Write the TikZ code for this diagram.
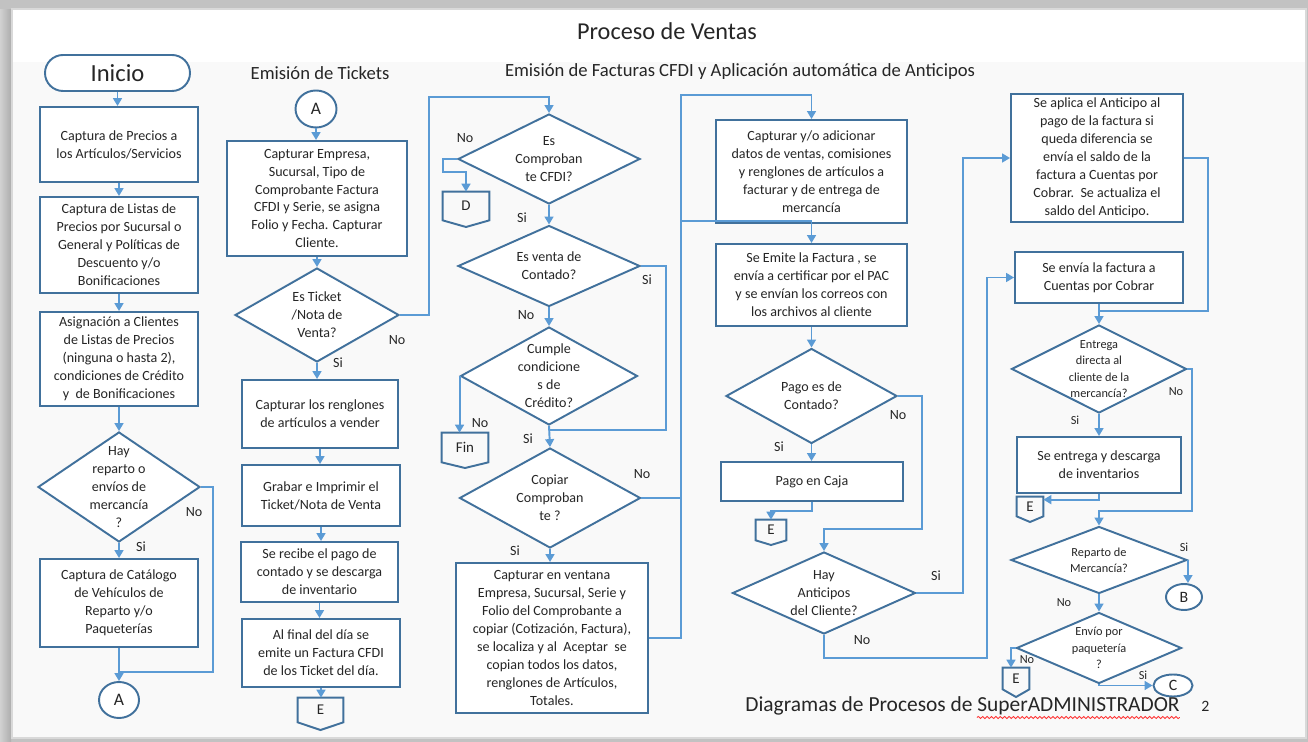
\documentclass[tikz,border=0pt]{standalone}
\usepackage{fontspec}
\setmainfont{Carlito}
\usetikzlibrary{shapes.geometric,arrows.meta,calc,decorations.pathmorphing}
\definecolor{boxc}{HTML}{41719C}
\definecolor{linec}{HTML}{5B9BD5}
\definecolor{txt}{HTML}{262626}
\definecolor{frameg}{HTML}{C2C2C2}
\definecolor{slidebg}{HTML}{F9F9F9}
\newcommand{\szbody}{\fontsize{8}{10.2}\selectfont}
\newcommand{\szsmall}{\fontsize{7}{9.3}\selectfont}
\newcommand{\pbox}[6]{\node[box, minimum width={(#4-#2)*0.02cm}, minimum height={(#5-#3)*0.02cm}] (#1) at ({(#2+#4)/2},{(#3+#5)/2}) {#6};}
\newcommand{\pdia}[7]{\node[dia, minimum width={#4*0.02cm}, minimum height={#5*0.02cm}] (#1) at (#2,#3) {};
  \node[dtext, #6] (#1t) at (#1.center) {#7};}
\newcommand{\poff}[7]{\node[opc, minimum width={(#3-#2)*0.02cm}, minimum height={(#5-#4)*0.02cm}] (#1) at ({(#2+#3)/2},{(#4+#5)/2}) {#7};
  \draw[boxline] (#1.north west) -- (#1.north east) -- (#1.south east) -- ({(#2+#3)/2},#6) -- (#1.south west) -- cycle;}
\begin{document}
\begin{tikzpicture}[x=0.02cm,y=-0.02cm,
  box/.style={draw=boxc, line width=1.1pt, fill=white, align=center, inner sep=1pt, text=txt, font=\szbody},
  boxline/.style={draw=boxc, line width=1.1pt},
  dia/.style={diamond, draw=boxc, line width=1.1pt, fill=white, inner sep=0pt},
  dtext/.style={align=center, inner sep=0pt, text=txt, font=\szbody},
  opc/.style={inner sep=0pt, text=txt, font=\fontsize{8.5}{10}\selectfont},
  ell/.style={ellipse, draw=boxc, line width=1.1pt, fill=white, inner sep=0pt, text=txt},
  lbl/.style={inner sep=0pt, text=txt, font=\szbody},
  lbls/.style={inner sep=0pt, text=txt, font=\szsmall},
  conn/.style={draw=linec, line width=1.1pt, -{Triangle[length=4.5pt,width=5pt]}},
  plain/.style={draw=linec, line width=1.1pt},
  ttl/.style={inner sep=0pt, text=txt}]
\useasboundingbox (0,0) rectangle (1308,742);
% frame
\fill[frameg] (0,0) rectangle (1308,742);
\shade[left color=white!82!black, right color=white!68!black] (0,10) rectangle (11,742);
\fill[slidebg] (12,9) rectangle (1306,738);
\fill[white] (12,9) rectangle (1306,62);
\draw[white!85!black, line width=0.6pt] (12,9) rectangle (1306,738);

% titles
\node[ttl, font=\fontsize{13.8}{16}\selectfont] (title) at (667,31) {Proceso de Ventas};
\node[ttl, font=\fontsize{10.6}{12}\selectfont] (t2) at (320,73) {Emisión de Tickets};
\node[ttl, font=\fontsize{10.6}{12}\selectfont] (t3) at (740,72) {Emisión de Facturas CFDI y Aplicación automática de Anticipos};

% column 1
\node[box, rounded corners=0.36cm, minimum width={145*0.02cm}, minimum height={36*0.02cm}, font=\fontsize{14}{16}\selectfont] (inicio) at (117.5,73) {Inicio};
\pbox{b1}{40}{107}{198}{182}{Captura de Precios a\\los Artículos/Servicios}
\pbox{b2}{40}{197}{198}{293}{Captura de Listas de\\Precios por Sucursal o\\General y Políticas de\\Descuento y/o\\Bonificaciones}
\pbox{b3}{40}{312}{198}{406}{Asignación a Clientes\\de Listas de Precios\\(ninguna o hasta 2),\\condiciones de Crédito\\y\ \ de Bonificaciones}
\pdia{d1}{119}{487}{162}{110}{}{Hay\\reparto o\\envíos de\\mercancía\\?}
\pbox{b4}{40}{559}{198}{647}{Captura de Catálogo\\de Vehículos de\\Reparto y/o\\Paqueterías}
\node[ell, minimum width={40*0.02cm}, minimum height={36*0.02cm}, font=\fontsize{10}{12}\selectfont] (cA1) at (119,700) {A};
\node[lbl] (l1n) at (194,512) {No};
\node[lbl] (l1s) at (141,547) {Si};

\draw[conn] (inicio.south) -- (inicio.south |- b1.north);
\draw[conn] (b1.south) -- (b2.north);
\draw[conn] (b2.south) -- (b3.north);
\draw[conn] (b3.south) -- (d1.north);
\draw[conn] (d1.south) -- (b4.north);
\draw[conn] (b4.south) -- (cA1.north);
\draw[plain] (d1.east) -| (213,672) -- (119,672);

% column 2
\node[ell, minimum width={41*0.02cm}, minimum height={37*0.02cm}, font=\fontsize{10}{12}\selectfont] (cA2) at (316,109) {A};
\pbox{b5}{227}{141}{407}{256}{Capturar Empresa,\\Sucursal, Tipo de\\Comprobante Factura\\CFDI y Serie, se asigna\\Folio y Fecha. Capturar\\Cliente.}
\pdia{d2}{317}{315}{164}{94}{}{Es Ticket\\/Nota de\\Venta?}
\pbox{b6}{242}{380}{398}{448}{Capturar los renglones\\de artículos a vender}
\pbox{b7}{242}{465}{400}{526}{Grabar e Imprimir el\\Ticket/Nota de Venta}
\pbox{b8}{241}{542}{398}{602}{Se recibe el pago de\\contado y se descarga\\de inventario}
\pbox{b9}{242}{619}{400}{687}{Al final del día se\\emite un Factura CFDI\\de los Ticket del día.}
\poff{e1}{298}{343}{698}{722}{730}{E}
\node[lbl] (l2n) at (397,340) {No};
\node[lbl] (l2s) at (338,363) {Si};

\draw[conn] (cA2.south) -- (cA2.south |- b5.north);
\draw[conn] (b5.south) -- (b5.south |- d2.north);
\draw[conn] (d2.south) -- (d2.south |- b6.north);
\draw[conn] (b6.south) -- (b6.south |- b7.north);
\draw[conn] (b7.south) -- (b7.south |- b8.north);
\draw[conn] (b8.south) -- (b8.south |- b9.north);
\draw[conn] (b9.south) -- (b9.south |- e1.north);

% column 3
\pdia{d3}{549}{159}{182}{90}{}{Es\\Comproban\\te CFDI?}
\poff{pd}{443}{489}{192}{220}{227}{D}
\pdia{d4}{549}{266}{182}{81}{}{Es venta de\\Contado?}
\pdia{d5}{549}{376}{177}{98}{}{Cumple\\condicione\\s de\\Crédito?}
\poff{fin}{442}{488}{433}{462}{468}{Fin}
\pdia{d6}{550}{498}{181}{100}{}{Copiar\\Comproban\\te ?}
\pbox{b10}{456}{563}{648}{713}{Capturar en ventana\\Empresa, Sucursal, Serie y\\Folio del Comprobante a\\copiar (Cotización, Factura),\\se localiza y al\ \ Aceptar\ \ se\\copian todos los datos,\\renglones de Artículos,\\Totales.}
\node[lbl] (l3n) at (465,138) {No};
\node[lbl] (l3s) at (522,218) {Si};
\node[lbl] (l4s) at (647,280) {Si};
\node[lbl] (l4n) at (526,315) {No};
\node[lbl] (l5n) at (480,423) {No};
\node[lbl] (l5s) at (528,439) {Si};
\node[lbl] (l6n) at (642,474) {No};
\node[lbl] (l6s) at (515,551) {Si};

\draw[conn] (d2.east) -| (429,97) -| (d3.north);
\draw[conn] (d3.west) -| (443,172) -| (pd.north);
\draw[conn] (d3.south) -- (d4.north);
\draw[conn] (d4.south) -- (d5.north);
\draw[conn] (d5.south) -- (d6.north);
\draw[conn] (d6.south) -- (d6.south |- b10.north);
\draw[plain] (d4.east) -| (666,430) -- (549,430);
\draw[conn] (d5.west) -- (d5.west |- fin.north);

% column 4
\pbox{b11}{716}{120}{907}{223}{Capturar y/o adicionar\\datos de ventas, comisiones\\y renglones de artículos a\\facturar y de entrega de\\mercancía}
\pbox{b12}{716}{244}{907}{326}{Se Emite la Factura , se\\envía a certificar por el PAC\\y se envían los correos con\\los archivos al cliente}
\pdia{d7}{811.5}{396}{171}{95}{}{Pago es de\\Contado?}
\pbox{b13}{721}{462}{903}{501}{Pago en Caja}
\poff{e2}{756}{786}{520}{540}{545}{E}
\pdia{d8}{824}{593}{183}{82}{}{Hay\\Anticipos\\del Cliente?}
\node[lbl] (l7n) at (898,415) {No};
\node[lbl] (l7s) at (779,447) {Si};
\node[lbl] (l8s) at (936,576) {Si};
\node[lbl] (l8n) at (862,640) {No};

\draw[plain] (d6.east) -- (681,498);
\draw[conn] (b10.east) -| (681,95) -| (b11.north);
\draw[conn] (681,221) -| (b12.north);
\draw[conn] (b12.south) -- (d7.north);
\draw[conn] (d7.south) -- (d7.south |- b13.north);
\draw[conn] (d7.east) -| (922,529) -| (d8.north);
\draw[conn] (b13.south) -- ++(0,9) -| (e2.north);

% column 5
\pbox{b14}{1011}{94}{1183}{222}{Se aplica el Anticipo al\\pago de la factura si\\queda diferencia se\\envía el saldo de la\\factura a Cuentas por\\Cobrar.\ \ Se actualiza el\\saldo del Anticipo.}
\pbox{b15}{1015}{252}{1183}{303}{Se envía la factura a\\Cuentas por Cobrar}
\pdia{d9}{1099}{369}{175}{88}{font=\szsmall}{Entrega\\directa al\\cliente de la\\mercancía?}
\pbox{b16}{1017}{437}{1181}{493}{Se entrega y descarga\\de inventarios}
\poff{e3}{1017}{1043}{497}{516}{522}{E}
\pdia{d10}{1099}{560}{176}{67}{font=\szsmall}{Reparto de\\Mercancía?}
\node[ell, minimum width={36*0.02cm}, minimum height={26*0.02cm}, font=\fontsize{9}{11}\selectfont] (cB) at (1184,597) {B};
\pdia{d11}{1099}{648}{165}{71}{font=\szsmall}{Envío por\\paquetería\\?}
\poff{e4}{1003}{1029}{668}{689}{697}{E}
\node[ell, minimum width={39*0.02cm}, minimum height={22*0.02cm}, font=\fontsize{9}{11}\selectfont] (cC) at (1173,685.5) {C};
\node[lbls] (l9n) at (1176,392) {No};
\node[lbls] (l9s) at (1075,420) {Si};
\node[lbls] (l10s) at (1184,547) {Si};
\node[lbls] (l10n) at (1064,603) {No};
\node[lbls] (l11n) at (1027,660) {No};
\node[lbls] (l11s) at (1143,675) {Si};

\draw[conn] (d8.east) -| (963,158) -- (b14.west);
\draw[conn] (d8.south) |- (987,658) |- (b15.west);
\draw[plain] (b14.east) -| (1208,311) -- (1099,311);
\draw[conn] (b15.south) -- (b15.south |- d9.north);
\draw[conn] (d9.south) -- (d9.south |- b16.north);
\draw[conn] (d9.east) -| (1192,511) -| (d10.north);
\draw[conn] (b16.south) |- ($(e3.north east)+(0,3)$);
\draw[conn] (d10.south) -- (d11.north);
\draw[conn] (d10.east) -- (d10.east |- cB.north);
\draw[conn] (d11.west) -| ([xshift=-0.1cm]e4.north);
\draw[conn] (d11.south) |- (cC.west);

% footer
\node[ttl, anchor=base west, font=\fontsize{12.2}{14}\selectfont] (f1) at (745,711.5) {Diagramas de Procesos de};
\node[ttl, anchor=base west, font=\fontsize{12.2}{14}\selectfont] (f2) at ($(f1.base east)+(4,0)$) {SuperADMINISTRADOR};
\draw[red!80, line width=0.5pt, decorate, decoration={snake, amplitude=0.6pt, segment length=2.5pt}] ($(f2.base west)+(0,6)$) -- ($(f2.base east)+(0,6)$);
\node[ttl, anchor=base west, font=\fontsize{9}{11}\selectfont] (pg) at (1201,711) {2};
\end{tikzpicture}
\end{document}
